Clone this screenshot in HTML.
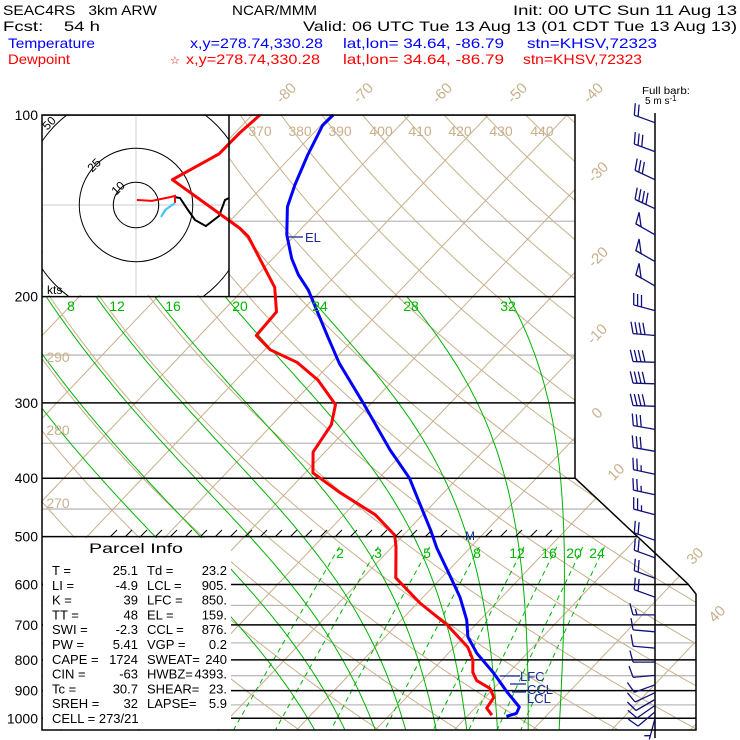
<!DOCTYPE html>
<html><head><meta charset="utf-8"><title>Skew-T KHSV</title>
<style>
html,body{margin:0;padding:0;background:#fff;}
svg{display:block;font-family:"Liberation Sans",sans-serif;}
</style></head>
<body>
<svg id="chart" xmlns="http://www.w3.org/2000/svg" width="740" height="740" viewBox="0 0 740 740">
<defs>
<clipPath id="frameClip"><polygon points="42,115 575,115 575,478 688,584 696,594 696,730 42,730"/></clipPath>
<clipPath id="hodoClip"><rect x="42" y="115" width="187" height="181"/></clipPath>
</defs>
<g font-size="14" fill="#000">
<text x="3" y="15" textLength="154" lengthAdjust="spacingAndGlyphs" xml:space="preserve">SEAC4RS   3km ARW</text>
<text x="232" y="15" textLength="85" lengthAdjust="spacingAndGlyphs">NCAR/MMM</text>
<text x="513" y="15" textLength="224" lengthAdjust="spacingAndGlyphs">Init: 00 UTC Sun 11 Aug 13</text>
<text x="3" y="31" textLength="97" lengthAdjust="spacingAndGlyphs" xml:space="preserve">Fcst:    54 h</text>
<text x="303" y="31" textLength="434" lengthAdjust="spacingAndGlyphs">Valid: 06 UTC Tue 13 Aug 13 (01 CDT Tue 13 Aug 13)</text>
<g fill="#0000ff">
<text x="8" y="48" textLength="87" lengthAdjust="spacingAndGlyphs">Temperature</text>
<text x="190" y="48" textLength="133" lengthAdjust="spacingAndGlyphs">x,y=278.74,330.28</text>
<text x="343" y="48" textLength="161" lengthAdjust="spacingAndGlyphs">lat,lon= 34.64, -86.79</text>
<text x="527" y="48" textLength="130" lengthAdjust="spacingAndGlyphs">stn=KHSV,72323</text>
</g>
<g fill="#ff0000">
<text x="8" y="64" textLength="62" lengthAdjust="spacingAndGlyphs">Dewpoint</text>
<text x="170" y="64" font-size="11">☆</text>
<text x="186" y="64" textLength="134" lengthAdjust="spacingAndGlyphs">x,y=278.74,330.28</text>
<text x="343" y="64" textLength="161" lengthAdjust="spacingAndGlyphs">lat,lon= 34.64, -86.79</text>
<text x="523" y="64" textLength="119" lengthAdjust="spacingAndGlyphs">stn=KHSV,72323</text>
</g>
<text x="642" y="94" font-size="10" textLength="48" lengthAdjust="spacingAndGlyphs">Full barb:</text>
<text x="645" y="104" font-size="10">5 m s<tspan font-size="8" dy="-3">-1</tspan></text>
</g>
<g id="grid" clip-path="url(#frameClip)"></g>
<g id="hodo"></g>
<g id="parcel"></g>
<g id="profiles"></g>
<g id="labels"></g>
<g id="barbs"></g>
<g id="frame"></g>
</svg>
<script>
// ---------- data ----------
const TEMP_P = [100,104,116.5,130.6,142,158,173,184,195,233,258,300,359,400,440,487,522,574,630,687,733,780,841,904,958,981,993];
const TEMP_T = [-69.7,-69.8,-68.1,-66.1,-64.4,-61.1,-57.6,-54.8,-51.7,-43.6,-38.9,-31.1,-22.0,-16.1,-11.8,-7.2,-4.2,0.3,4.7,8.3,10.5,13.6,18.1,22.1,25.5,25.9,25.0];
const DEW_P = [100,107,116,128,154,159,193,212,232,245,257,275,302,326,362,392,422,460,497,520,585,644,700,762,800,839,866,892,923,962,988];
const DEW_T = [-79.0,-79.4,-79.5,-82.3,-67.9,-65.8,-56.3,-53.1,-52.8,-49.3,-44.4,-39.6,-34.4,-32.5,-31.5,-29.0,-23.3,-16.0,-11.1,-9.5,-5.8,0.3,6.4,11.7,13.9,15.4,16.9,19.5,21.1,21.5,23.0];
const BARB_P = [103,115,128,143,158,175,192,211,232,257,279,304,332,361,394,426,460,507,542,586,630,674,719,765,807,849,880,907,931,952,976,1000];
const BARB_DIR = [290,290,295,295,300,300,300,285,275,272,272,272,280,280,282,282,285,290,290,290,290,270,275,275,270,265,250,245,240,235,230,195];
const BARB_SPD = [10,15,15,20,25,25,25,15,20,20,20,20,15,15,12.5,12.5,12.5,10,10,10,10,7.5,5,5,5,5,5,5,5,5,5,2.5];
const HODO_RED_U = [0.4,7,15,17.2,17.2];
const HODO_RED_V = [2.2,1.8,3.5,4,0.9];
const HODO_BLK_U = [17.2,19.4,22.9,26,30.8,36.6,39.2,41];
const HODO_BLK_V = [3.5,3.1,-2.2,-6.6,-9.3,-4.8,2.2,3.1];
const HODO_CYN_U = [17.2,12.8,11,13.7];
const HODO_CYN_V = [0.9,-2.2,-5.3,-1.3];
const PRESS_TICKS = [100,200,300,400,500,600,700,800,900,1000];
const PRESS_MINOR = [150,250,350,450,650,750,850,950];
const ISOTHERMS = [-130,-120,-110,-100,-90,-80,-70,-60,-50,-40,-30,-20,-10,0,10,20,30,40,50];
const DRY_THETA = [250,260,270,280,290,300,310,320,330,340,350,360,370,380,390,400,410,420,430,440,450,460];
const MOIST_TW = [0,4,8,12,16,20,24,28,32];
const MIX_W = [2,3,5,8,12,16,20,24];
const PARCEL_LEFT = ["T  =","LI =","K  =","TT =","SWI =","PW =","CAPE =","CIN =","Tc =","SREH ="];
const PARCEL_LVAL = ["25.1","-4.9","39","48","-2.3","5.41","1724","-63","30.7","32"];
const PARCEL_RIGHT = ["Td =","LCL =","LFC =","EL  =","CCL =","VGP =","SWEAT=","HWBZ=","SHEAR=","LAPSE="];
const PARCEL_RVAL = ["23.2","905.","850.","159.","876.","0.2","240","4393.","23.","5.9"];

// ---------- axes ----------
const NS='http://www.w3.org/2000/svg';
function Y(p){return 115+262*Math.log(p/100);}
function X(T,p){return 308+7.875*T+0.952*(718-Y(p));}
function mk(tag,parent){const e=document.createElementNS(NS,tag);parent.appendChild(e);return e;}
function pts(arr){return arr.map(a=>a[0].toFixed(1)+','+a[1].toFixed(1)).join(' ');}

const grid=document.getElementById('grid');
PRESS_MINOR.forEach(p=>{const l=mk('line',grid);


l.setAttribute('x1',42);l.setAttribute('x2',700);l.setAttribute('y1',Y(p));l.setAttribute('y2',Y(p));l.setAttribute('stroke','#bbbbbb');l.setAttribute('stroke-width','1.3');});
ISOTHERMS.forEach(t=>{const l=mk('line',grid);


l.setAttribute('x1',X(t,1060));l.setAttribute('y1',Y(1060));l.setAttribute('x2',X(t,95));l.setAttribute('y2',Y(95));l.setAttribute('stroke','#c8b08c');l.setAttribute('stroke-width','1');});
DRY_THETA.forEach(th=>{const a=[];for(let p=95;p<=1060;p+=5){a.push([X(th*Math.pow(p/1000,0.2857)-273.15,p),Y(p)]);}
const l=mk('polyline',grid);


l.setAttribute('points',pts(a));l.setAttribute('fill','none');l.setAttribute('stroke','#c8b08c');l.setAttribute('stroke-width','1');});
function dTdp(T,p){const es=6.112*Math.exp(17.67*(T-273.15)/(T-29.65));const rs=0.622*es/(p-es);return (287*T+2.5e6*rs)/(p*(1004+2.5e6*2.5e6*rs*0.622/(287*T*T)));}
MOIST_TW.forEach(tw=>{
 const up=[];let T=tw+273.15;
 for(let p=1000;p>=200;p-=1){if(p%5===0)up.push([X(T-273.15,p),Y(p)]);const k1=dTdp(T,p);const k2=dTdp(T-0.5*k1,p-0.5);T-=k2;}
 const dn=[];T=tw+273.15;
 for(let p=1000;p<=1060;p+=1){if(p%5===0)dn.unshift([X(T-273.15,p),Y(p)]);const k1=dTdp(T,p);const k2=dTdp(T+0.5*k1,p+0.5);T+=k2;}
 const l=mk('polyline',grid);
 
 
 l.setAttribute('points',pts(dn.concat(up)));l.setAttribute('fill','none');l.setAttribute('stroke','#00b400');l.setAttribute('stroke-width','1');});
MIX_W.forEach(w=>{const a=[];for(let p=520;p<=1060;p+=10){const e=w*p/(622+w);const lg=Math.log(e/6.112);a.push([X(243.5*lg/(17.67-lg),p),Y(p)]);}
const l=mk('polyline',grid);


l.setAttribute('points',pts(a));l.setAttribute('fill','none');l.setAttribute('stroke','#00b400');l.setAttribute('stroke-width','1');l.setAttribute('stroke-dasharray','5,4');});
PRESS_TICKS.forEach(p=>{const l=mk('line',grid);


l.setAttribute('x1',42);l.setAttribute('x2',700);l.setAttribute('y1',Y(p));l.setAttribute('y2',Y(p));l.setAttribute('stroke','#000');l.setAttribute('stroke-width','1.5');});

// ---------- hodograph ----------
const hodo=document.getElementById('hodo');
const HCX=136,HCY=205,HS=2.27;
{const r=mk('rect',hodo);


r.setAttribute('x',43);r.setAttribute('y',116);r.setAttribute('width',186);r.setAttribute('height',179);r.setAttribute('fill','#fff');}
const hg=mk('g',hodo);hg.setAttribute('clip-path','url(#hodoClip)');


[[42,HCY,229,HCY],[HCX,115,HCX,296]].forEach(c=>{const l=mk('line',hg);


l.setAttribute('x1',c[0]);l.setAttribute('y1',c[1]);l.setAttribute('x2',c[2]);l.setAttribute('y2',c[3]);l.setAttribute('stroke','#d8d8d8');l.setAttribute('stroke-width','1.2');});
[10,25,50].forEach(k=>{const c=mk('circle',hg);


c.setAttribute('cx',HCX);c.setAttribute('cy',HCY);c.setAttribute('r',k*HS);c.setAttribute('fill','none');c.setAttribute('stroke','#000');c.setAttribute('stroke-width','1');});
[["10",121,191],["25",97,168],["50",52,126]].forEach(t=>{const tx=mk('text',hg);


tx.setAttribute('x',t[1]);tx.setAttribute('y',t[2]);tx.setAttribute('font-size','12');tx.setAttribute('transform','rotate(-45 '+t[1]+' '+t[2]+')');tx.setAttribute('text-anchor','middle');tx.textContent=t[0];});
function hodoLine(U,V,col,w,name){const a=U.map((u,i)=>[HCX+u*HS,HCY-V[i]*HS]);const l=mk('polyline',hg);


l.setAttribute('points',pts(a));l.setAttribute('fill','none');l.setAttribute('stroke',col);l.setAttribute('stroke-width',w);}
hodoLine(HODO_BLK_U,HODO_BLK_V,'#000','2','hodograph-trace-upper');
hodoLine(HODO_RED_U,HODO_RED_V,'#ff0000','2','hodograph-trace-low');
hodoLine(HODO_CYN_U,HODO_CYN_V,'#40c8f0','2','hodograph-storm-motion');
{const t=mk('text',hodo);


t.setAttribute('x',47);t.setAttribute('y',294);t.setAttribute('font-size','12');t.textContent='kts';}

// ---------- parcel info ----------
const pg=document.getElementById('parcel');
{const r=mk('rect',pg);


r.setAttribute('x',43);r.setAttribute('y',538);r.setAttribute('width',188);r.setAttribute('height',191);r.setAttribute('fill','#fff');
const t=mk('text',pg);


t.setAttribute('x',89);t.setAttribute('y',553);t.setAttribute('font-size','14');t.setAttribute('textLength','94');t.setAttribute('lengthAdjust','spacingAndGlyphs');t.textContent='Parcel Info';}
PARCEL_LEFT.forEach((nm,i)=>{const y=575+i*14.8;
const a=mk('text',pg);


a.setAttribute('x',52);a.setAttribute('y',y);a.setAttribute('font-size','13');a.setAttribute('xml:space','preserve');a.textContent=nm;
const v=mk('text',pg);


v.setAttribute('x',138);v.setAttribute('y',y);v.setAttribute('font-size','13');v.setAttribute('text-anchor','end');v.textContent=PARCEL_LVAL[i];
const b=mk('text',pg);


b.setAttribute('x',147);b.setAttribute('y',y);b.setAttribute('font-size','13');b.setAttribute('xml:space','preserve');b.textContent=PARCEL_RIGHT[i];
const w=mk('text',pg);


w.setAttribute('x',227);w.setAttribute('y',y);w.setAttribute('font-size','13');w.setAttribute('text-anchor','end');w.textContent=PARCEL_RVAL[i];});
{const t=mk('text',pg);


t.setAttribute('x',52);t.setAttribute('y',575+10*14.8);t.setAttribute('font-size','13');t.setAttribute('xml:space','preserve');t.textContent='CELL = 273/21';}

// ---------- profiles ----------
const prof=document.getElementById('profiles');
{const l=mk('polyline',prof);


l.setAttribute('points',pts(DEW_P.map((p,i)=>[X(DEW_T[i],p),Y(p)])));l.setAttribute('fill','none');l.setAttribute('stroke','#ff0000');l.setAttribute('stroke-width','3');l.setAttribute('stroke-linejoin','round');
const m=mk('polyline',prof);


m.setAttribute('points',pts(TEMP_P.map((p,i)=>[X(TEMP_T[i],p),Y(p)])));m.setAttribute('fill','none');m.setAttribute('stroke','#0000ff');m.setAttribute('stroke-width','3');m.setAttribute('stroke-linejoin','round');}
[["EL",287,303,237,305,237],["LFC",500,520,676,520,676],["CCL",510,526,684,527,689],["LCL",512,526,692,527,698]].forEach(m=>{
const l=mk('line',prof);


l.setAttribute('x1',m[1]);l.setAttribute('x2',m[2]);l.setAttribute('y1',m[3]);l.setAttribute('y2',m[3]);l.setAttribute('stroke','#1a2a9a');l.setAttribute('stroke-width','1.3');
const t=mk('text',prof);


t.setAttribute('x',m[4]);t.setAttribute('y',m[5]+5);t.setAttribute('font-size','13');t.setAttribute('fill','#1a2a9a');t.textContent=m[0];});

// ---------- labels ----------
const lab=document.getElementById('labels');
PRESS_TICKS.forEach(p=>{const t=mk('text',lab);


t.setAttribute('x',38);t.setAttribute('y',Y(p)+5);t.setAttribute('font-size','14');t.setAttribute('text-anchor','end');t.textContent=String(p);});
const ISO_LABELS=[["-80",286,93],["-70",363,93],["-60",442,93],["-50",517,93],["-40",593,93],["-30",598,172],["-20",598,257],["-10",597,334],["0",597,413],["10",616,472],["30",695,556],["40",717,614]];
ISO_LABELS.forEach(a=>{const t=mk('text',lab);


t.setAttribute('x',a[1]);t.setAttribute('y',a[2]+5);t.setAttribute('font-size','15');t.setAttribute('fill','#c8b08c');t.setAttribute('text-anchor','middle');t.setAttribute('transform','rotate(-45 '+a[1]+' '+a[2]+')');t.textContent=a[0];});
const TH_LABELS=[["370",260,131],["380",300,131],["390",340,131],["400",381,131],["410",420,131],["420",460,131],["430",501,131],["440",542,131],["290",58,357],["280",58,430],["270",58,503]];
TH_LABELS.forEach(a=>{const t=mk('text',lab);


t.setAttribute('x',a[1]);t.setAttribute('y',a[2]+5);t.setAttribute('font-size','14');t.setAttribute('fill','#c8b08c');t.setAttribute('text-anchor','middle');t.textContent=a[0];});
const MOIST_LBL=[["8",71],["12",117],["16",173],["20",240],["24",320],["28",411],["32",508]];
MOIST_LBL.forEach(a=>{const t=mk('text',lab);


t.setAttribute('x',a[1]);t.setAttribute('y',311);t.setAttribute('font-size','14');t.setAttribute('fill','#00b400');t.setAttribute('text-anchor','middle');t.textContent=a[0];});
const MIX_LBL=[["2",340],["3",378],["5",427],["8",477],["12",517],["16",549],["20",574],["24",597]];
MIX_LBL.forEach(a=>{const t=mk('text',lab);


t.setAttribute('x',a[1]);t.setAttribute('y',558);t.setAttribute('font-size','14');t.setAttribute('fill','#00b400');t.setAttribute('text-anchor','middle');t.textContent=a[0];});
for(let x=114;x<=550;x+=15){if(x>455&&x<475)continue;const l=mk('line',lab);


l.setAttribute('x1',x-4);l.setAttribute('y1',537);l.setAttribute('x2',x+3);l.setAttribute('y2',530);l.setAttribute('stroke','#000');l.setAttribute('stroke-width','1');}
{const t=mk('text',lab);


t.setAttribute('x',470);t.setAttribute('y',540);t.setAttribute('font-size','12');t.setAttribute('fill','#1a2a9a');t.setAttribute('text-anchor','middle');t.textContent='M';}

// ---------- wind barbs ----------
const bg=document.getElementById('barbs');
const AX=655;
{const l=mk('line',bg);


l.setAttribute('x1',AX);l.setAttribute('x2',AX);l.setAttribute('y1',113);l.setAttribute('y2',738);l.setAttribute('stroke','#000');l.setAttribute('stroke-width','1.5');}
BARB_P.forEach((p,i)=>{
 const y=Y(p),d=BARB_DIR[i]*Math.PI/180,L=22;
 const sx=Math.sin(d),sy=-Math.cos(d);
 const a=75*Math.PI/180;const bx=sx*Math.cos(a)-sy*Math.sin(a),by=sx*Math.sin(a)+sy*Math.cos(a);
 const tx=AX+sx*L,ty=y+sy*L;
 const g=mk('g',bg);
 
 
 let path='M'+AX+' '+y.toFixed(1)+'L'+tx.toFixed(1)+' '+ty.toFixed(1);
 let spd=BARB_SPD[i],pos=0,fill='';
 while(spd>=25){const x0=tx-sx*pos,y0=ty-sy*pos,x1=tx-sx*(pos+6),y1=ty-sy*(pos+6);
  fill+='M'+x0.toFixed(1)+' '+y0.toFixed(1)+'L'+(x0+bx*12).toFixed(1)+' '+(y0+by*12).toFixed(1)+'L'+x1.toFixed(1)+' '+y1.toFixed(1)+'Z';pos+=8;spd-=25;}
 while(spd>=5){const x0=tx-sx*pos,y0=ty-sy*pos;path+='M'+x0.toFixed(1)+' '+y0.toFixed(1)+'l'+(bx*12).toFixed(1)+' '+(by*12).toFixed(1);pos+=4;spd-=5;}
 if(spd>=2.5){if(pos===0)pos=4;const x0=tx-sx*pos,y0=ty-sy*pos;path+='M'+x0.toFixed(1)+' '+y0.toFixed(1)+'l'+(bx*6).toFixed(1)+' '+(by*6).toFixed(1);}
 const s=mk('path',g);
 
 
 s.setAttribute('d',path);s.setAttribute('fill','none');s.setAttribute('stroke','#10107a');s.setAttribute('stroke-width','1.3');
 if(fill){const f=mk('path',g);
 
 
 f.setAttribute('d',fill);f.setAttribute('fill','none');f.setAttribute('stroke','#10107a');f.setAttribute('stroke-width','1.3');}
});

// ---------- frame ----------
const fr=document.getElementById('frame');
{const f=mk('polygon',fr);


f.setAttribute('points','42,115 575,115 575,478 688,584 696,594 696,730 42,730');f.setAttribute('fill','none');f.setAttribute('stroke','#000');f.setAttribute('stroke-width','1.5');
const v=mk('line',fr);


v.setAttribute('x1',229);v.setAttribute('x2',229);v.setAttribute('y1',115);v.setAttribute('y2',296);v.setAttribute('stroke','#000');v.setAttribute('stroke-width','1.5');}
</script>
</body></html>
